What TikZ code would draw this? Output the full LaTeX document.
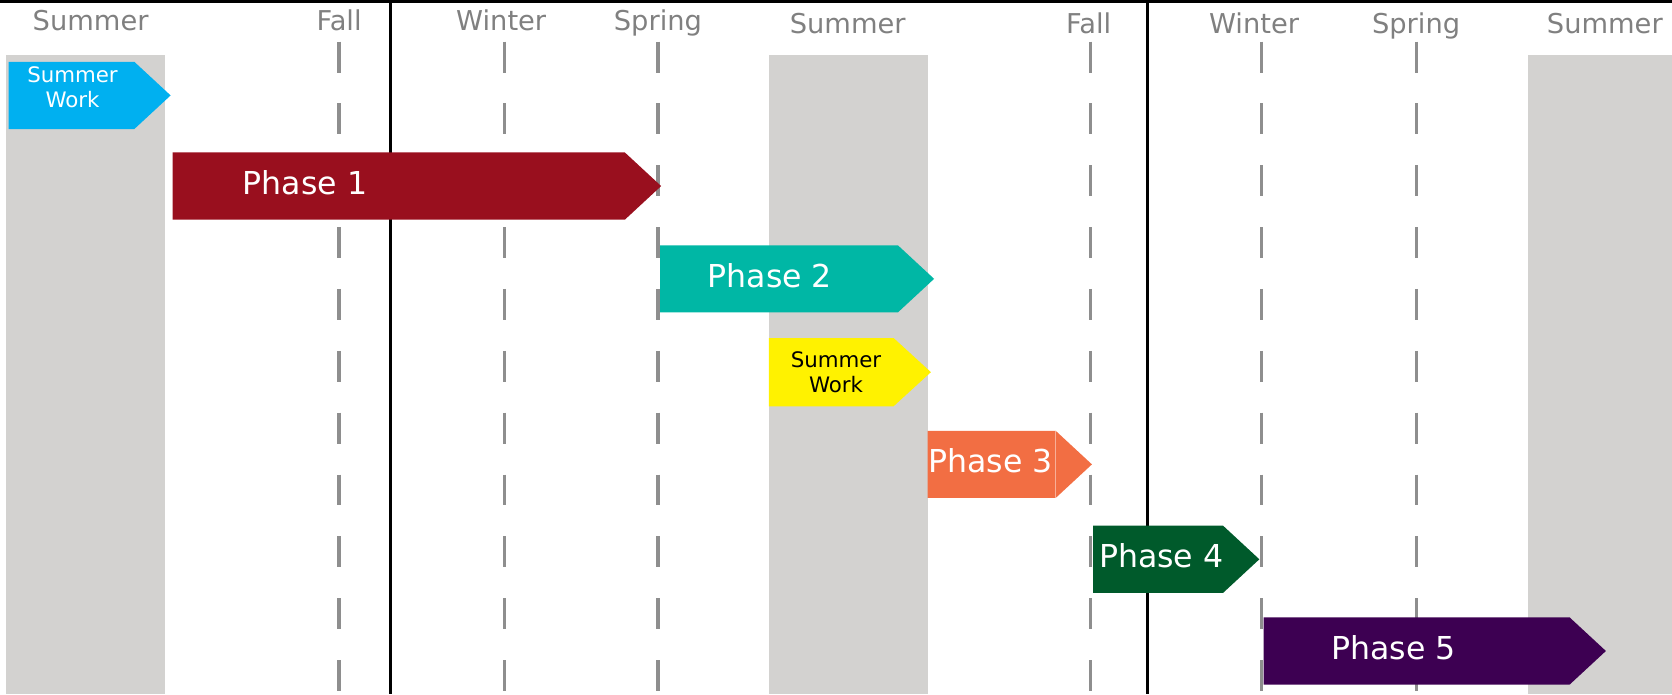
\documentclass[tikz,border=0pt]{standalone}
\usepackage{fontspec}
\setmainfont{DejaVu Sans}

\definecolor{summergray}{HTML}{D3D2D0}
\definecolor{labelgray}{HTML}{808080}
\definecolor{dashgray}{HTML}{8E8E8E}
\definecolor{workblue}{HTML}{00B0F0}
\definecolor{phaseone}{HTML}{990F1E}
\definecolor{phasetwo}{HTML}{00B7A5}
\definecolor{workyellow}{HTML}{FFF200}
\definecolor{phasethree}{HTML}{F26E43}
\definecolor{phasefour}{HTML}{005A2B}
\definecolor{phasefive}{HTML}{3D0052}

\tikzstyle{season}=[text=labelgray, anchor=base, inner sep=0pt, font=\fontsize{12.8}{14}\selectfont]
\tikzstyle{phase}=[text=white, anchor=base, inner sep=0pt, font=\fontsize{14.8}{17}\selectfont]
\tikzstyle{work}=[align=center, inner sep=0pt, font=\fontsize{10}{12}\selectfont]
\tikzstyle{seasonline}=[draw=dashgray, line width=1.5pt, dash pattern=on 14.5pt off 14.5pt]
\tikzstyle{yearline}=[draw=black, line width=1.4pt]

\begin{document}
\begin{tikzpicture}[x=0.5pt,y=-0.5pt]
            \useasboundingbox (0,0) rectangle (1568,651);
            % summers
            \fill[summergray] (6,52) rectangle (155,651);
            \fill[summergray] (721,52) rectangle (870,651);
            \fill[summergray] (1433,52) rectangle (1568,651);
            % season marks
            \draw[seasonline] (318,39) -- (318,651);
            \draw[seasonline] (473,39) -- (473,651);
            \draw[seasonline] (617,39) -- (617,651);
            \draw[seasonline] (1023,39) -- (1023,651);
            \draw[seasonline] (1183,39) -- (1183,651);
            \draw[seasonline] (1328,39) -- (1328,651);
            % years
            \draw[yearline] (0,1) -- (1568,1);
            \draw[yearline] (366,0) -- (366,651);
            \draw[yearline] (1076,0) -- (1076,651);
            \node[season] (su1) at (85,29) {Summer};
            \node[season] (fa1) at (318,29) {Fall};
            \node[season] (wi1) at (470,29) {Winter};
            \node[season] (sp1) at (617,29) {Spring};
            \node[season] (su2) at (795,31) {Summer};
            \node[season] (fa2) at (1021,31) {Fall};
            \node[season] (wi2) at (1176,31) {Winter};
            \node[season] (sp2) at (1328,31) {Spring};
            \node[season] (su3) at (1505,31) {Summer};
            % phases
            \fill[workblue] (8,58) -- (126,58) -- (160,89.5) -- (126,121) -- (8,121) -- cycle;
            \node[work, text=white] (sw1) at (68,82) {Summer\\Work};
            \fill[phaseone] (162,143) -- (586,143) -- (620,174.5) -- (586,206) -- (162,206) -- cycle;
            \node[phase] (ph1) at (286,182.5) {Phase 1};
            \fill[phasetwo] (619,230) -- (842,230) -- (876,261.5) -- (842,293) -- (619,293) -- cycle;
            \node[phase] (ph2) at (722,269.5) {Phase 2};
            \fill[workyellow] (721,317) -- (838,317) -- (873,349) -- (838,381) -- (721,381) -- cycle;
            \node[work, text=black] (sw2) at (784,349) {Summer\\Work};
            \fill[phasethree] (870,404) -- (990,404) -- (1024,435.5) -- (990,467) -- (870,467) -- cycle;
            \draw[phasethree!55!white, line width=0.5pt] (990,404) -- (990,467);
            \node[phase] (ph3) at (929,443.5) {Phase 3};
            \fill[phasefour] (1025,493) -- (1147,493) -- (1181,524.5) -- (1147,556) -- (1025,556) -- cycle;
            \node[phase] (ph4) at (1089,532.5) {Phase 4};
            \fill[phasefive] (1185,579) -- (1472,579) -- (1506,610.5) -- (1472,642) -- (1185,642) -- cycle;
            \node[phase] (ph5) at (1307,618.5) {Phase 5};
        \end{tikzpicture}
\end{document}
